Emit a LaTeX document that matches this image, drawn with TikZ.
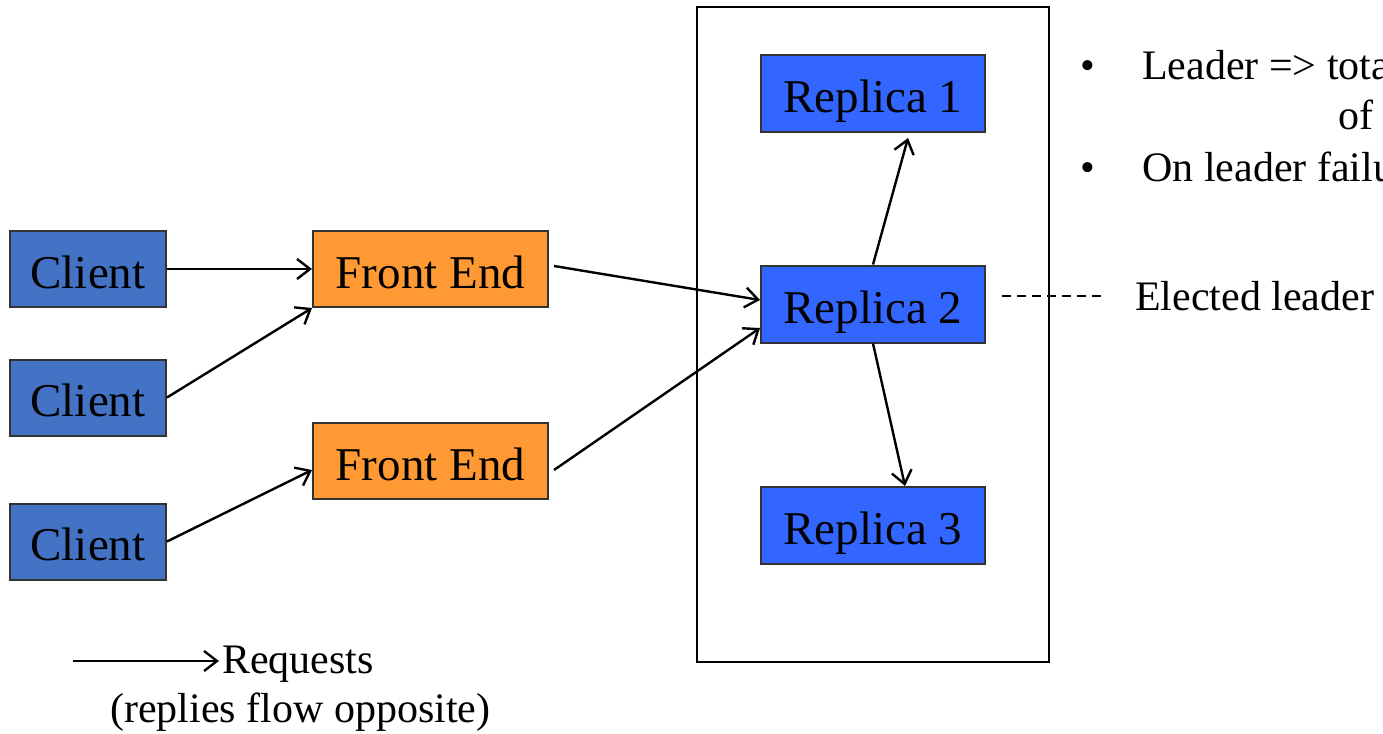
\documentclass[tikz,border=0pt]{standalone}
\usepackage{fontspec}
\setmainfont{Liberation Serif}
\usetikzlibrary{arrows.meta}
\definecolor{clientblue}{HTML}{4472C4}
\definecolor{feorange}{HTML}{FF9933}
\definecolor{repblue}{HTML}{3366FF}
\begin{document}
\begin{tikzpicture}[x=1pt,y=-1pt,
  box/.style={draw=black!80,line width=2pt,inner sep=0pt,minimum height=76pt,text height=38pt,text depth=0pt,font=\fontsize{47}{56}\selectfont},
  clientbox/.style={box,fill=clientblue,minimum width=156pt},
  febox/.style={box,fill=feorange,minimum width=235pt},
  repbox/.style={box,fill=repblue,minimum width=224pt,minimum height=77pt},
  txt/.style={inner sep=0pt,anchor=base west,font=\fontsize{42}{50}\selectfont},
  req/.style={line width=2.4pt,-{Straight Barb[length=13pt,width=20pt,line width=2.4pt]}}]
\useasboundingbox (0,0) rectangle (1383,733);
\clip (0,0) rectangle (1383,733);
\node[draw,line width=1.3pt,minimum width=352pt,minimum height=655pt,inner sep=0pt] (grp) at (873,334.5) {};
\node[clientbox] (c1) at (88,269) {Client};
\node[clientbox] (c2) at (88,397.5) {Client};
\node[clientbox] (c3) at (88,541.5) {Client};
\node[febox] (f1) at (430.5,269) {Front End};
\node[febox] (f2) at (430.5,461) {Front End};
\node[repbox] (r1) at (873,93.5) {Replica 1};
\node[repbox] (r2) at (873,304) {Replica 2};
\node[repbox] (r3) at (873,525.5) {Replica 3};
\draw[req] (c1.east) -- (f1.west);
\draw[req] (c2.east) -- (f1.south west);
\draw[req] (c3.east) -- ([yshift=-9pt]f2.west);
\draw[req] ([xshift=5pt,yshift=3pt]f1.east) -- ([yshift=4pt]r2.west);
\draw[req] ([xshift=5pt,yshift=-9pt]f2.east) -- ([yshift=-24pt]r2.west);
\draw[req] (r2.north) -- ([xshift=35pt,yshift=-5pt]r1.south);
\draw[req] (r2.south) -- ([xshift=32pt]r3.north);
% bullets
\node[txt] (b1) at (1080,80) {•};
\node[txt] (t1) at (1142,80) {Leader => tota};
\node[txt] (t1b) at (1338,130) {of};
\node[txt] (b2) at (1080,181) {•};
\node[txt] (t2) at (1142,181) {On leader failu};
\node[txt] (el) at (1135,310) {Elected leader};
\coordinate (d1) at (1002,296);
\coordinate (d2) at (1106,296);
\draw[line width=2pt,dash pattern=on 9pt off 6pt] (d1) -- (d2);
% legend
\node[txt] (rq) at (222,673) {Requests};
\node[txt] (rp) at (110,722) {(replies flow opposite)};
\coordinate (la) at (73,661);
\draw[req] (la) -- (219,661);
\end{tikzpicture}
\end{document}
